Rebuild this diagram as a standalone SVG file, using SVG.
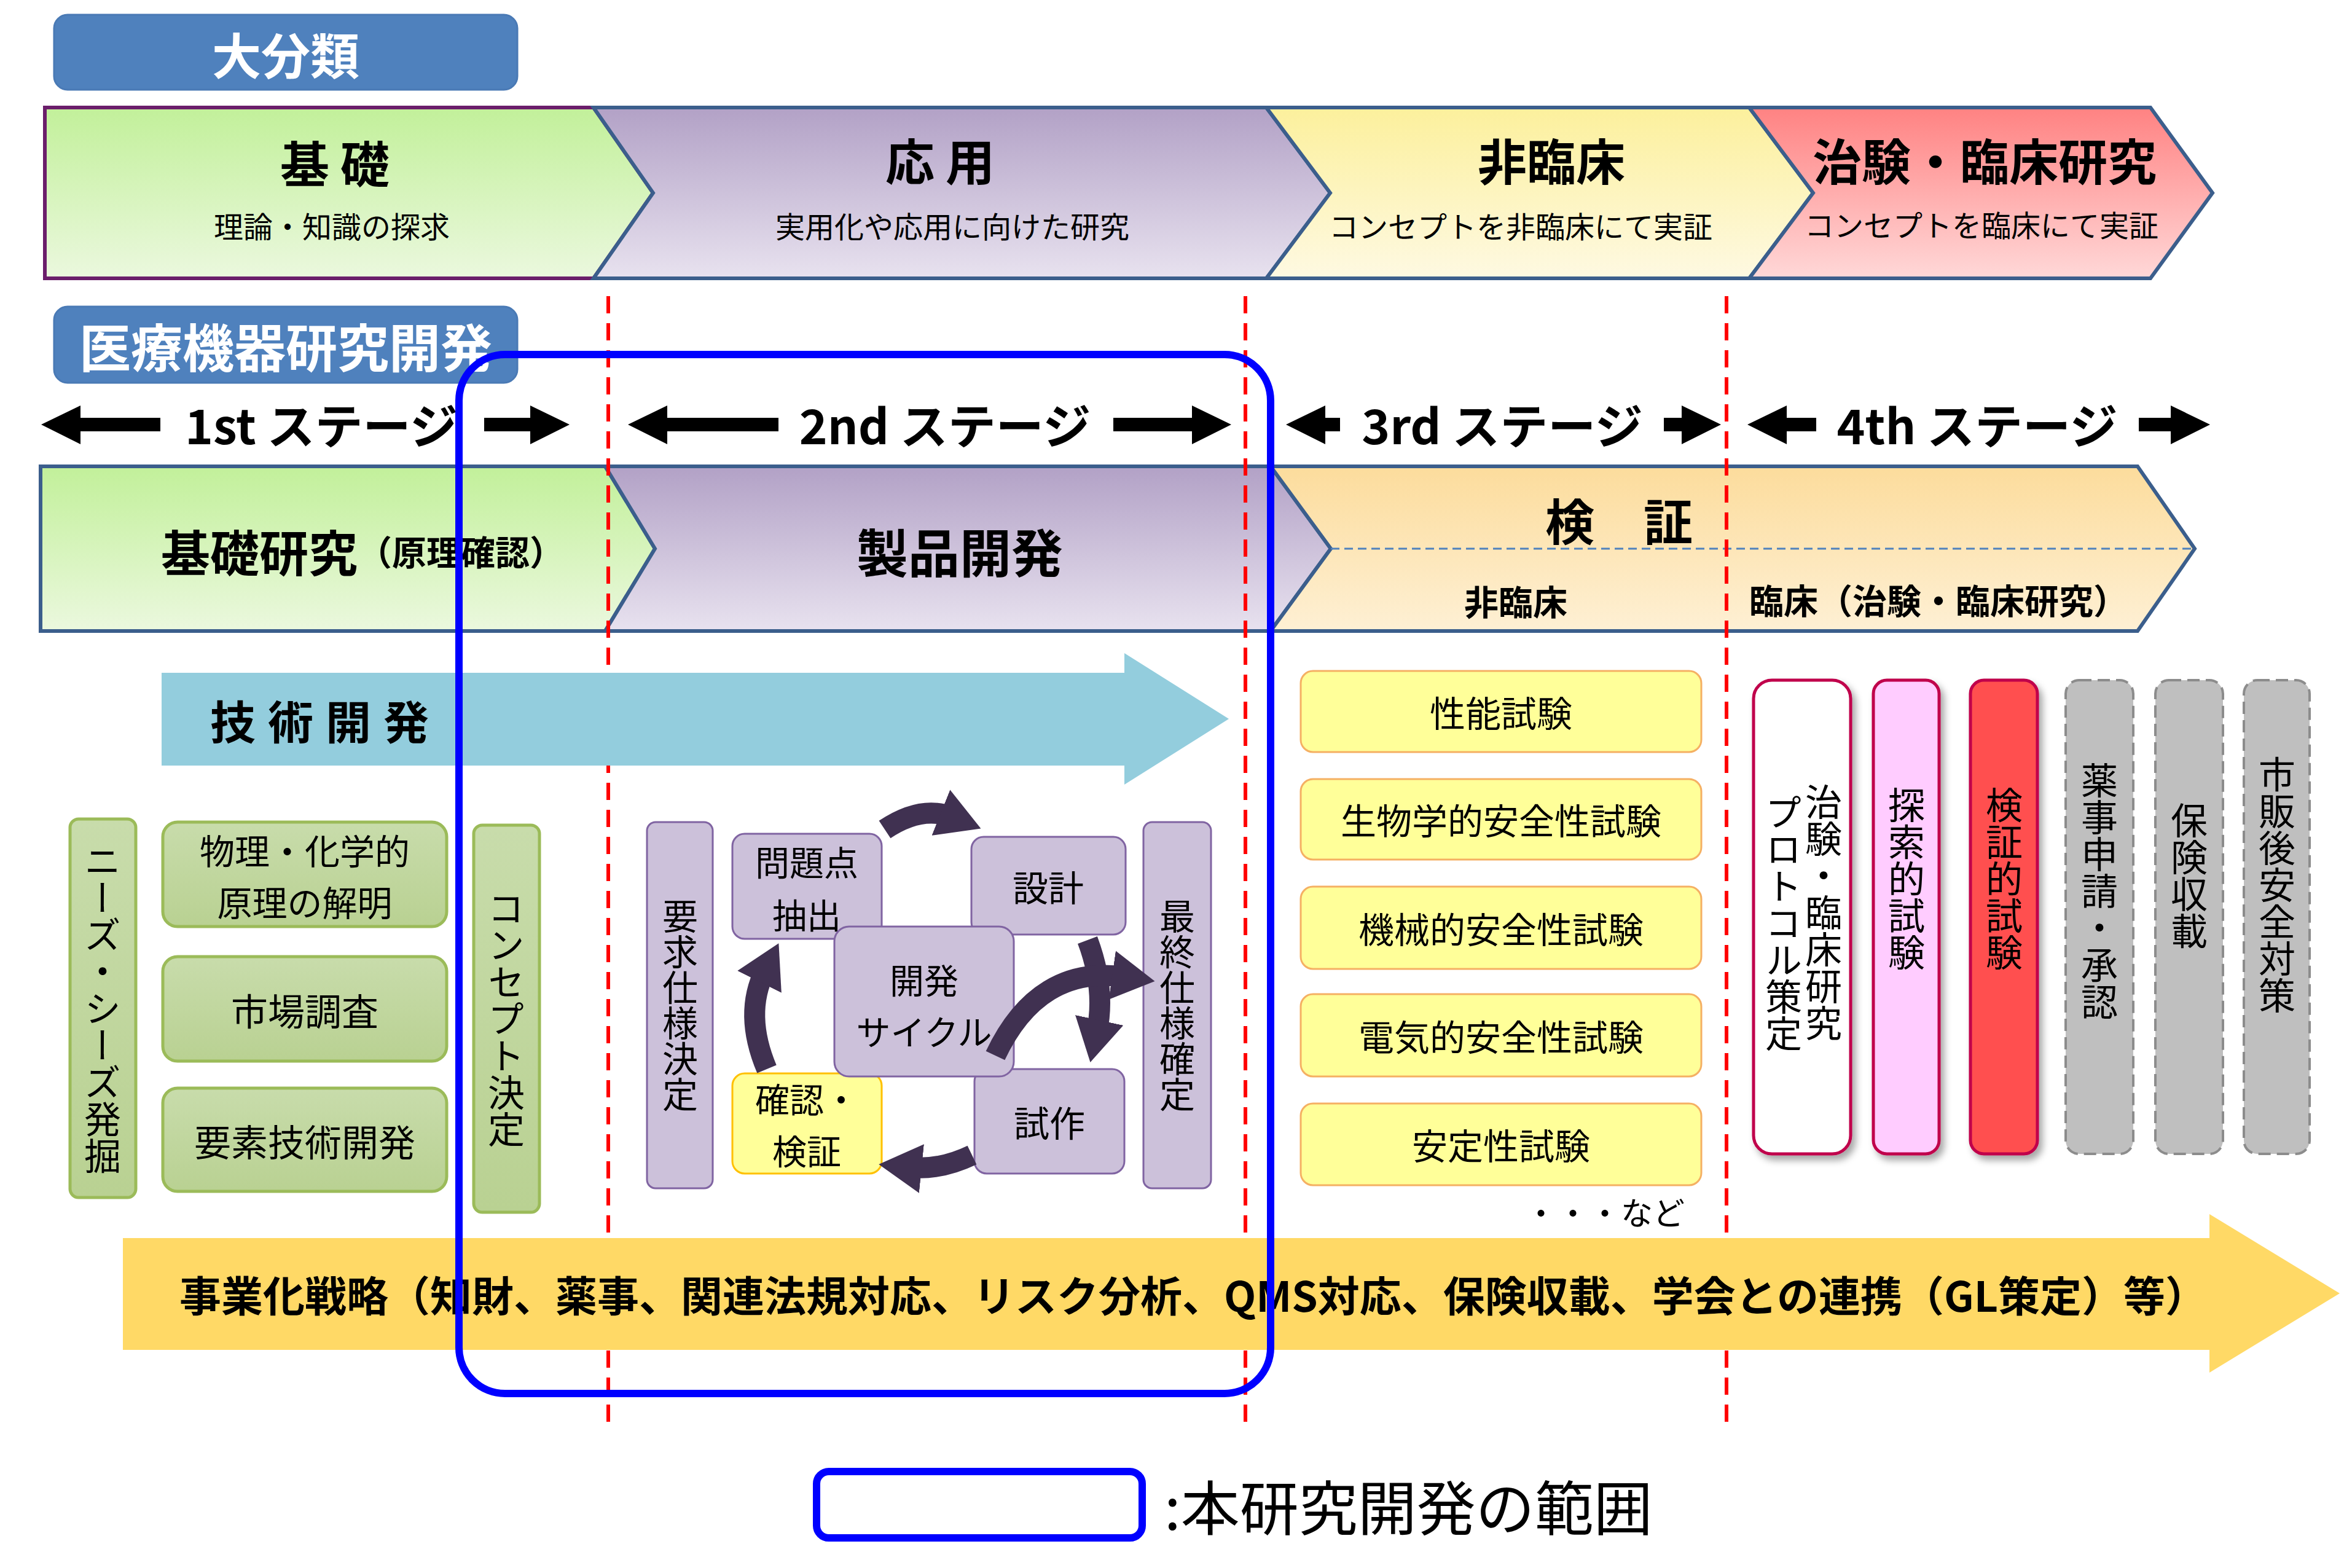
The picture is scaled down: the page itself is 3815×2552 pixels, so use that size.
<svg xmlns="http://www.w3.org/2000/svg" width="3815" height="2552" viewBox="0 0 3815 2552">
<defs>
<linearGradient id="gG" x1="0" y1="0" x2="0" y2="1"><stop offset="0" stop-color="#c2f09a"/><stop offset="1" stop-color="#ebf8de"/></linearGradient>
<linearGradient id="gP" x1="0" y1="0" x2="0" y2="1"><stop offset="0" stop-color="#b2a1c6"/><stop offset="1" stop-color="#e8e2ef"/></linearGradient>
<linearGradient id="gY" x1="0" y1="0" x2="0" y2="1"><stop offset="0" stop-color="#fcf09c"/><stop offset="1" stop-color="#fef9e2"/></linearGradient>
<linearGradient id="gR" x1="0" y1="0" x2="0" y2="1"><stop offset="0" stop-color="#ff8282"/><stop offset="1" stop-color="#ffd8d8"/></linearGradient>
<linearGradient id="gO" x1="0" y1="0" x2="0" y2="1"><stop offset="0" stop-color="#fcdc9c"/><stop offset="1" stop-color="#fef0d4"/></linearGradient>
<linearGradient id="gL" x1="0" y1="0" x2="0" y2="1"><stop offset="0" stop-color="#c8dcab"/><stop offset="1" stop-color="#b9d192"/></linearGradient>
<marker id="ah" markerUnits="userSpaceOnUse" markerWidth="90" markerHeight="90" refX="20" refY="45" orient="auto"><path d="M0,5 L70,45 L0,85 Z" fill="#403151"/></marker>
<filter id="sh" x="-20%" y="-5%" width="150%" height="115%"><feDropShadow dx="6" dy="8" stdDeviation="6" flood-color="#000" flood-opacity="0.35"/></filter>
</defs>
<style>
text{font-family:"Noto Sans CJK JP","Noto Sans",sans-serif;fill:#000}
.b{font-weight:bold}
.c{text-anchor:middle;dominant-baseline:central}
.v{writing-mode:vertical-rl;text-orientation:upright}
.hd{fill:#4f81bd;stroke:#4a7ab5;stroke-width:3}
.ch{stroke:#3b5e8c;stroke-width:6}
.grn{fill:url(#gL);stroke:#9bbb59;stroke-width:5}
.pur{fill:#ccc1da;stroke:#8064a2;stroke-width:3}
.ylw{fill:#ffff99;stroke:#f5b063;stroke-width:3}
.red{stroke:#ff0000;stroke-width:6;stroke-dasharray:28 16}
.cyc{fill:none;stroke:#403151;stroke-width:34;marker-end:url(#ah)}
.stg{fill:#000}
.gry{fill:#bfbfbf;stroke:#8c8c8c;stroke-width:4;stroke-dasharray:20 10}
</style>

<g id="header1"><rect class="hd" x="88" y="24" width="754" height="122" rx="22"/><text class="b c" x="465" y="86" font-size="80" style="fill:#fff">大分類</text></g>

<g id="kiso"><polygon points="73,175 966,175 1063,314 966,453 73,453" fill="url(#gG)" stroke="#6b1e6b" stroke-width="6"/>
<text class="b c" x="545" y="262" font-size="80">基 礎</text><text class="c" x="540" y="366" font-size="48">理論・知識の探求</text></g>
<g id="ouyou"><polygon class="ch" points="966,175 2061,175 2165,314 2061,453 966,453 1063,314" fill="url(#gP)"/>
<text class="b c" x="1530" y="258" font-size="80">応 用</text><text class="c" x="1550" y="366" font-size="48">実用化や応用に向けた研究</text></g>
<g id="hirinsho"><polygon class="ch" points="2061,175 2847,175 2951,314 2847,453 2061,453 2165,314" fill="url(#gY)"/>
<text class="b c" x="2525" y="258" font-size="80">非臨床</text><text class="c" x="2475" y="366" font-size="48">コンセプトを非臨床にて実証</text></g>
<g id="chiken"><polygon class="ch" points="2847,175 3500,175 3601,314 3500,453 2847,453 2951,314" fill="url(#gR)"/>
<text class="b c" x="3230" y="258" font-size="80">治験・臨床研究</text><text class="c" x="3225" y="364" font-size="48">コンセプトを臨床にて実証</text></g>

<g id="header2"><rect class="hd" x="88" y="499" width="754" height="124" rx="22"/><text class="b c" x="465" y="561" font-size="84" style="fill:#fff">医療機器研究開発</text></g>

<g id="stages">
<polygon class="stg" points="67,691 131,660 131,680 261,680 261,702 131,702 131,723"/>
<text class="b c" x="523" y="689" font-size="78">1st ステージ</text>
<polygon class="stg" points="927,691 863,660 863,680 788,680 788,702 863,702 863,723"/>
<polygon class="stg" points="1022,691 1086,660 1086,680 1267,680 1267,702 1086,702 1086,723"/>
<text class="b c" x="1538" y="689" font-size="78">2nd ステージ</text>
<polygon class="stg" points="2004,691 1940,660 1940,680 1812,680 1812,702 1940,702 1940,723"/>
<polygon class="stg" points="2093,691 2157,660 2157,680 2181,680 2181,702 2157,702 2157,723"/>
<text class="b c" x="2445" y="689" font-size="78">3rd ステージ</text>
<polygon class="stg" points="2801,691 2737,660 2737,680 2708,680 2708,702 2737,702 2737,723"/>
<polygon class="stg" points="2844,691 2908,660 2908,680 2956,680 2956,702 2908,702 2908,723"/>
<text class="b c" x="3218" y="689" font-size="78">4th ステージ</text>
<polygon class="stg" points="3597,691 3533,660 3533,680 3481,680 3481,702 3533,702 3533,723"/>
</g>

<g id="kisokenkyu"><polygon class="ch" points="66,759 985,759 1066,893 985,1027 66,1027" fill="url(#gG)"/>
<text class="b c" x="590" y="895" font-size="80">基礎研究<tspan font-size="56">（原理確認）</tspan></text></g>
<g id="seihin"><polygon class="ch" points="985,759 2068,759 2166,893 2068,1027 985,1027 1066,893" fill="url(#gP)"/>
<text class="b c" x="1562" y="895" font-size="84">製品開発</text></g>
<g id="kensho"><polygon class="ch" points="2068,759 3479,759 3572,893 3479,1027 2068,1027 2166,893" fill="url(#gO)"/>
<line x1="2166" y1="893" x2="3572" y2="893" stroke="#4f81bd" stroke-width="3" stroke-dasharray="14 8"/>
<text class="b c" x="2635" y="844" font-size="80">検　証</text>
<text class="b c" x="2467" y="976" font-size="56">非臨床</text>
<text class="b c" x="3155" y="974" font-size="56">臨床（治験・臨床研究）</text></g>

<g id="redlines">
<line class="red" x1="990" y1="482" x2="990" y2="2316"/>
<line class="red" x1="2027" y1="482" x2="2027" y2="2316"/>
<line class="red" x1="2810" y1="482" x2="2810" y2="2316"/>
</g>

<g id="gijutsu"><polygon points="263,1095 1830,1095 1830,1063 2000,1170 1830,1277 1830,1246 263,1246" fill="#93cddd"/>
<text class="b c" x="530" y="1170" font-size="74" letter-spacing="20">技術開発</text></g>

<g id="needs"><rect class="grn" x="114" y="1333" width="107" height="616" rx="14"/><text class="v c" x="167" y="1641" font-size="60">ニーズ・シーズ発掘</text></g>
<g id="butsuri"><rect class="grn" x="265" y="1338" width="462" height="170" rx="24"/><text class="c" x="496" y="1382" font-size="57">物理・化学的</text><text class="c" x="496" y="1466" font-size="57">原理の解明</text></g>
<g id="shijo"><rect class="grn" x="265" y="1557" width="462" height="170" rx="24"/><text class="c" x="496" y="1642" font-size="60">市場調査</text></g>
<g id="yoso"><rect class="grn" x="265" y="1771" width="462" height="168" rx="24"/><text class="c" x="496" y="1855" font-size="60">要素技術開発</text></g>
<g id="concept"><rect class="grn" x="771" y="1343" width="107" height="630" rx="14"/><text class="v c" x="824" y="1658" font-size="60">コンセプト決定</text></g>

<g id="yokyu"><rect class="pur" x="1053" y="1338" width="107" height="596" rx="14"/><text class="v c" x="1107" y="1636" font-size="58">要求仕様決定</text></g>
<g id="mondai"><rect class="pur" x="1192" y="1357" width="243" height="171" rx="20"/><text class="c" x="1313" y="1400" font-size="56">問題点</text><text class="c" x="1313" y="1486" font-size="56">抽出</text></g>
<g id="sekkei"><rect class="pur" x="1581" y="1362" width="251" height="159" rx="20"/><text class="c" x="1706" y="1442" font-size="58">設計</text></g>
<g id="kakunin"><rect x="1192" y="1747" width="243" height="163" rx="20" fill="#ffff99" stroke="#ffc000" stroke-width="3"/><text class="c" x="1313" y="1786" font-size="56">確認・</text><text class="c" x="1313" y="1870" font-size="56">検証</text></g>
<g id="shisaku"><rect class="pur" x="1586" y="1740" width="244" height="170" rx="20"/><text class="c" x="1708" y="1825" font-size="58">試作</text></g>
<g id="cycle"><rect class="pur" x="1358" y="1508" width="292" height="244" rx="24"/><text class="c" x="1504" y="1592" font-size="56">開発</text><text class="c" x="1504" y="1676" font-size="56">サイクル</text></g>
<g id="saishu"><rect class="pur" x="1861" y="1338" width="110" height="596" rx="14"/><text class="v c" x="1916" y="1636" font-size="58">最終仕様確定</text></g>

<g id="connectors">
<path class="cyc" d="M1440,1350 Q1500,1310 1550,1330"/>
<path class="cyc" d="M1770,1530 Q1800,1610 1785,1680"/>
<path class="cyc" d="M1582,1880 Q1530,1905 1480,1900"/>
<path class="cyc" d="M1248,1740 Q1210,1650 1245,1580"/>
<path class="cyc" d="M1620,1718 Q1690,1570 1830,1590"/>
</g>

<g id="t1"><rect class="ylw" x="2117" y="1092" width="652" height="132" rx="20"/><text class="c" x="2443" y="1158" font-size="58">性能試験</text></g>
<g id="t2"><rect class="ylw" x="2117" y="1268" width="652" height="131" rx="20"/><text class="c" x="2443" y="1333" font-size="58">生物学的安全性試験</text></g>
<g id="t3"><rect class="ylw" x="2117" y="1443" width="652" height="134" rx="20"/><text class="c" x="2443" y="1510" font-size="58">機械的安全性試験</text></g>
<g id="t4"><rect class="ylw" x="2117" y="1618" width="652" height="134" rx="20"/><text class="c" x="2443" y="1685" font-size="58">電気的安全性試験</text></g>
<g id="t5"><rect class="ylw" x="2117" y="1796" width="652" height="133" rx="20"/><text class="c" x="2443" y="1862" font-size="58">安定性試験</text></g>
<text class="c" x="2612" y="1971" font-size="52">・・・など</text>

<g id="protocol"><rect x="2854" y="1107" width="158" height="771" rx="30" fill="#fff" stroke="#c0004c" stroke-width="5" filter="url(#sh)"/><text class="v" x="2968" y="1275" font-size="60">治験・臨床研究</text><text class="v" x="2903" y="1292" font-size="60">プロトコル策定</text></g>
<g id="tansaku"><rect x="3049" y="1107" width="107" height="771" rx="22" fill="#ffccff" stroke="#c0004c" stroke-width="5" filter="url(#sh)"/><text class="v c" x="3103" y="1430" font-size="60">探索的試験</text></g>
<g id="kenshoteki"><rect x="3207" y="1107" width="109" height="771" rx="22" fill="#ff5050" stroke="#c0004c" stroke-width="5" filter="url(#sh)"/><text class="v c" x="3262" y="1430" font-size="60">検証的試験</text></g>
<g id="yakuji"><rect class="gry" x="3362" y="1107" width="110" height="771" rx="22"/><text class="v c" x="3417" y="1450" font-size="60">薬事申請・承認</text></g>
<g id="hoken"><rect class="gry" x="3508" y="1107" width="110" height="771" rx="22"/><text class="v c" x="3563" y="1425" font-size="60">保険収載</text></g>
<g id="shihan"><rect class="gry" x="3652" y="1107" width="107" height="771" rx="22"/><text class="v c" x="3706" y="1440" font-size="60">市販後安全対策</text></g>

<g id="jigyo"><polygon points="200,2015 3596,2015 3596,1976 3808,2105 3596,2234 3596,2197 200,2197" fill="#ffd966"/>
<text class="b" x="292" y="2105" font-size="68" dominant-baseline="central" textLength="3300" lengthAdjust="spacingAndGlyphs">事業化戦略（知財、薬事、関連法規対応、リスク分析、QMS対応、保険収載、学会との連携（GL策定）等）</text></g>

<g id="scope"><rect x="747" y="577" width="1321" height="1691" rx="75" fill="none" stroke="#0000ff" stroke-width="12"/></g>

<g id="legend"><rect x="1329" y="2395" width="530" height="108" rx="20" fill="#fff" stroke="#0000ff" stroke-width="12"/>
<text x="1895" y="2448" font-size="96" dominant-baseline="central">:本研究開発の範囲</text></g>
</svg>
